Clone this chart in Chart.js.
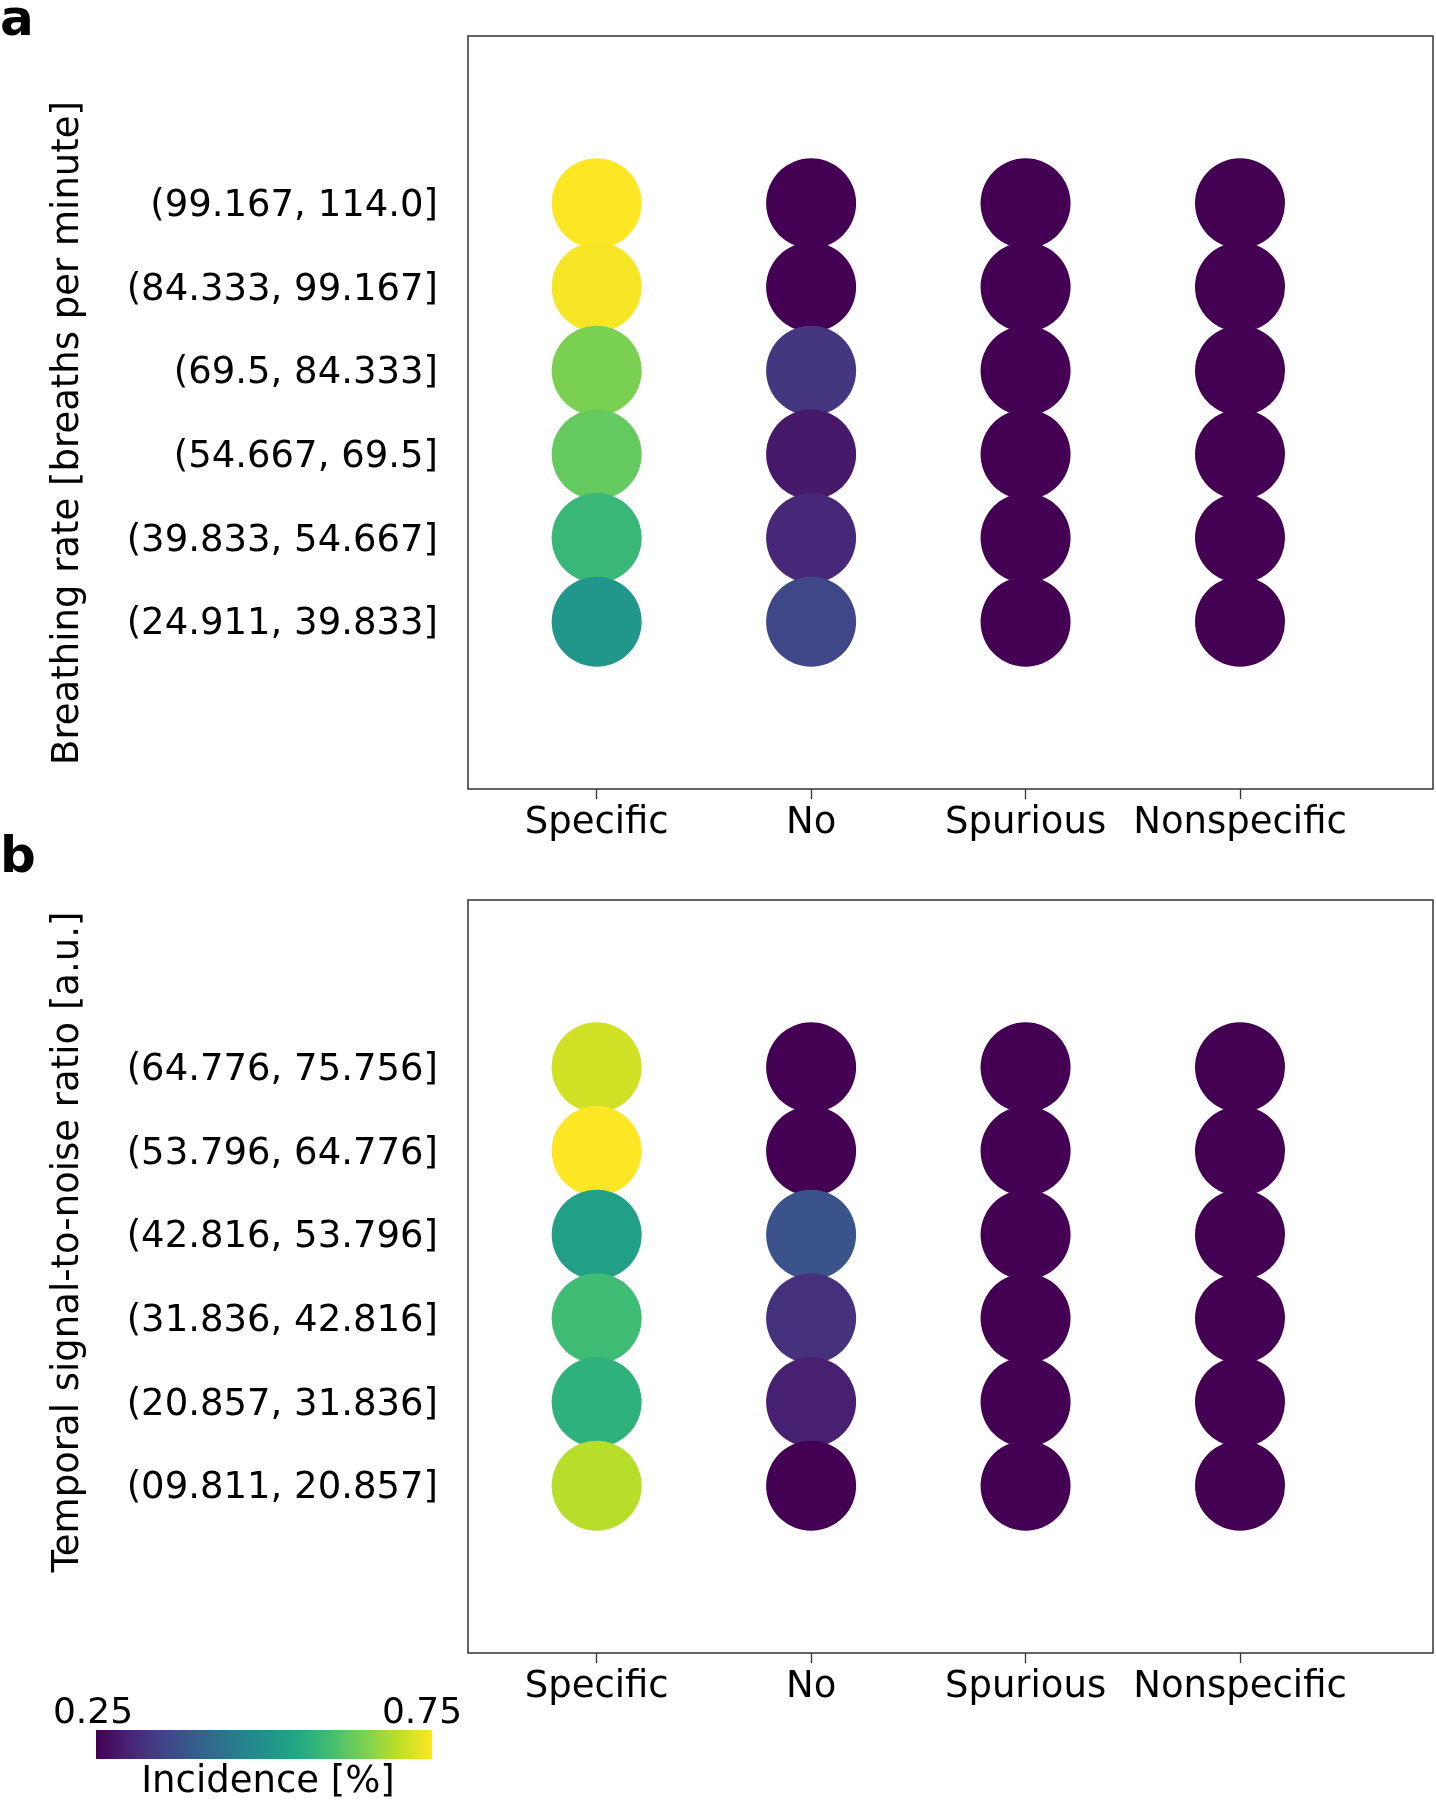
<!DOCTYPE html>
<html>
<head>
<meta charset="utf-8">
<script src="https://cdn.jsdelivr.net/npm/chart.js@4.4.0/dist/chart.umd.min.js"></script>
<style>
    body { margin: 0; background: #fff; width: 1436px; height: 1800px; position: relative; overflow: hidden; font-family: 'DejaVu Sans', sans-serif; color: #000; }
    canvas { position: absolute; left: 0; }
    .txt { position: absolute; line-height: 1; white-space: nowrap; }
    .letter { font-weight: bold; font-size: 50px; }
    .ytitle { font-size: 37px; transform: translate(-50%, -50%) rotate(-90deg); }
    #colorbar { position: absolute; left: 96px; top: 1730px; width: 336px; height: 29px; }
</style>
</head>
<body>
<div class="txt letter" style="left:0px; top:-7px;">a</div>
<div class="txt letter" style="left:0px; top:830px;">b</div>

<canvas id="chartA" width="1436" height="880" style="top:0px;"></canvas>
<canvas id="chartB" width="1436" height="880" style="top:864px;"></canvas>

<div class="txt ytitle" style="left:65px; top:433px;">Breathing rate [breaths per minute]</div>
<div class="txt ytitle" style="left:65px; top:1242px;">Temporal signal-to-noise ratio [a.u.]</div>

<div id="colorbar"></div>
<div class="txt" id="cbMin" style="font-size:36px; top:1693px;"></div>
<div class="txt" id="cbMax" style="font-size:36px; top:1693px;"></div>
<div class="txt" style="font-size:37px; top:1761px; left:268px; transform:translateX(-50%);">Incidence [%]</div>

<script>
// Categories on the x axis
const categories = ['Specific', 'No', 'Spurious', 'Nonspecific'];

// Panel a: breathing rate bins, listed bottom to top
const breathingBins = ['(24.911, 39.833]', '(39.833, 54.667]', '(54.667, 69.5]', '(69.5, 84.333]', '(84.333, 99.167]', '(99.167, 114.0]'];
const breathingSpecific = [0.51, 0.585, 0.63, 0.65, 0.745, 0.76];
const breathingNo = [0.355, 0.305, 0.285, 0.33, 0.2, 0.18];
const breathingSpurious = [0.08, 0.07, 0.05, 0.02, 0.04, 0.04];
const breathingNonspecific = [0.05, 0.04, 0.035, 0.0, 0.015, 0.02];

// Panel b: temporal SNR bins, listed bottom to top
const snrBins = ['(09.811, 20.857]', '(20.857, 31.836]', '(31.836, 42.816]', '(42.816, 53.796]', '(53.796, 64.776]', '(64.776, 75.756]'];
const snrSpecific = [0.695, 0.57, 0.595, 0.53, 0.76, 0.715];
const snrNo = [0.22, 0.295, 0.32, 0.38, 0.2, 0.23];
const snrSpurious = [0.05, 0.08, 0.05, 0.06, 0.03, 0.04];
const snrNonspecific = [0.035, 0.055, 0.035, 0.03, 0.01, 0.015];

// Colour scale limits
const colorMin = 0.25;
const colorMax = 0.75;
const colorTickLabels = ['0.25', '0.75'];

// Viridis colormap stops (t = 0, 0.1, ... 1)
const viridis = ['#440154', '#482475', '#414487', '#355f8d', '#2a788e', '#21918c', '#22a884', '#42be71', '#7ad151', '#bddf26', '#fde725'];

function hexToRgb(h) {
    return [parseInt(h.slice(1, 3), 16), parseInt(h.slice(3, 5), 16), parseInt(h.slice(5, 7), 16)];
}

function viridisAt(t) {
    t = Math.min(1, Math.max(0, t));
    const p = t * (viridis.length - 1);
    const i = Math.min(viridis.length - 2, Math.floor(p));
    const f = p - i;
    const a = hexToRgb(viridis[i]);
    const b = hexToRgb(viridis[i + 1]);
    const c = a.map((v, k) => Math.round(v + (b[k] - v) * f));
    return `rgb(${c[0]}, ${c[1]}, ${c[2]})`;
}

function colorFor(value) {
    return viridisAt((value - colorMin) / (colorMax - colorMin));
}

// Chart area frame
const frame = {
    id: 'frame',
    beforeDatasetsDraw(chart) {
        const { ctx, chartArea: a } = chart;
        ctx.save();
        ctx.strokeStyle = '#333';
        ctx.lineWidth = 1.5;
        ctx.strokeRect(a.left, a.top, a.right - a.left, a.bottom - a.top);
        ctx.restore();
    }
};

const tickFont = { family: 'DejaVu Sans', size: 37 };

function makePanel(canvasId, bins, series) {
    const datasets = categories.map((cat, ci) => {
        const pts = [];
        // draw the top row first so lower circles sit on top
        for (let bi = bins.length - 1; bi >= 0; bi--) {
            pts.push({ x: ci, y: bi, v: series[ci][bi] });
        }
        return {
            label: cat,
            data: pts,
            pointRadius: 45,
            pointHoverRadius: 45,
            borderWidth: 0,
            pointBorderWidth: 0,
            backgroundColor: ctx => (ctx.raw ? colorFor(ctx.raw.v) : '#440154')
        };
    });

    new Chart(document.getElementById(canvasId), {
        type: 'scatter',
        data: { datasets },
        options: {
            responsive: false,
            animation: false,
            events: [],
            layout: { autoPadding: false, padding: { top: 36, right: 3, left: 0, bottom: 0 } },
            plugins: {
                legend: { display: false },
                tooltip: { enabled: false }
            },
            scales: {
                x: {
                    type: 'linear',
                    min: -0.6,
                    max: 3.9,
                    afterBuildTicks: s => { s.ticks = categories.map((c, i) => ({ value: i })); },
                    afterFit: s => { s.height = 91; },
                    grid: { drawOnChartArea: false, drawTicks: true, tickLength: 10, color: '#333', tickWidth: 1.3 },
                    border: { display: false },
                    ticks: {
                        callback: v => categories[v],
                        font: tickFont,
                        color: '#000',
                        padding: 2,
                        maxRotation: 0,
                        autoSkip: false
                    }
                },
                y: {
                    type: 'linear',
                    min: -2,
                    max: 7,
                    afterBuildTicks: s => { s.ticks = bins.map((b, i) => ({ value: i })); },
                    afterFit: s => {
                        s.width = 468;
                        s.paddingTop = 0;
                        s.paddingBottom = 0;
                    },
                    grid: { drawOnChartArea: false, drawTicks: false },
                    border: { display: false },
                    ticks: {
                        callback: v => bins[v],
                        font: tickFont,
                        color: '#000',
                        padding: 30,
                        labelOffset: 3,
                        autoSkip: false
                    }
                }
            }
        },
        plugins: [frame]
    });
}

makePanel('chartA', breathingBins, [breathingSpecific, breathingNo, breathingSpurious, breathingNonspecific]);
makePanel('chartB', snrBins, [snrSpecific, snrNo, snrSpurious, snrNonspecific]);

// Colour bar
const stops = viridis.map((c, i) => `${c} ${(i / (viridis.length - 1) * 100).toFixed(1)}%`);
document.getElementById('colorbar').style.background = `linear-gradient(to right, ${stops.join(', ')})`;
const cbMin = document.getElementById('cbMin');
const cbMax = document.getElementById('cbMax');
cbMin.textContent = colorTickLabels[0];
cbMax.textContent = colorTickLabels[1];
cbMin.style.left = '93px';
cbMin.style.transform = 'translateX(-50%)';
cbMax.style.left = '422px';
cbMax.style.transform = 'translateX(-50%)';
</script>
</body>
</html>
